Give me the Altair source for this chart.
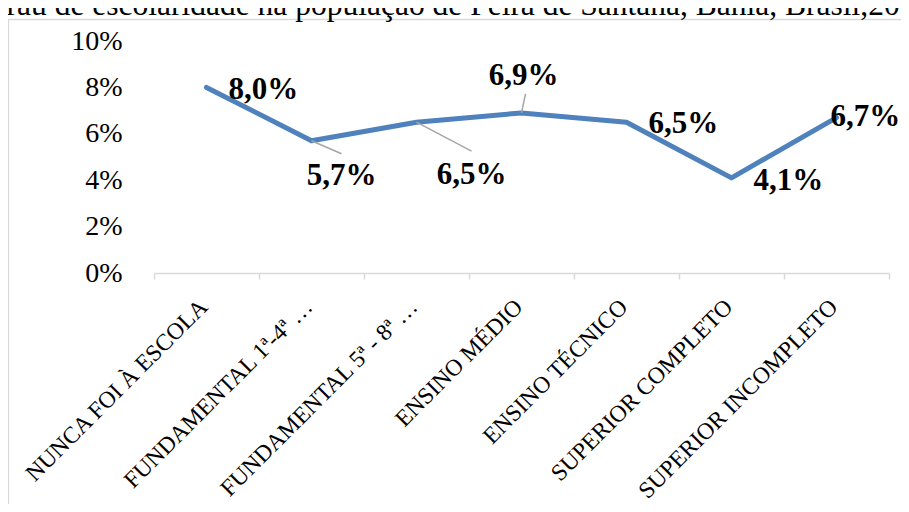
import altair as alt
import pandas as pd

# ---- data ----
categories = [
    "NUNCA FOI À ESCOLA",
    "FUNDAMENTAL 1ª-4ª …",
    "FUNDAMENTAL 5ª - 8ª …",
    "ENSINO MÉDIO",
    "ENSINO TÉCNICO",
    "SUPERIOR COMPLETO",
    "SUPERIOR INCOMPLETO",
]
values = [8.0, 5.7, 6.5, 6.9, 6.5, 4.1, 6.7]
y_ticks = [0, 2, 4, 6, 8, 10]
title_text = "Grau de escolaridade na população de Feira de Santana, Bahia, Brasil,2010"

labels = [f"{v:.1f}".replace(".", ",") + "%" for v in values]
df = pd.DataFrame({"idx": list(range(len(categories))), "cat": categories,
                   "v": values, "lab": labels})

FONT = "Liberation Serif"
BLUE = "#4f81bd"
GRAY = "#d9d9d9"

x_enc = alt.X("cat:N", sort=categories, bandPosition=0.5, title=None,
              scale=alt.Scale(type="band", paddingInner=0, paddingOuter=0),
              axis=alt.Axis(labelAngle=-45, labelAlign="right", labelBaseline="middle",
                            labelFont=FONT, labelFontSize=23.5, labelColor="black",
                            labelPadding=24, labelOffset=-3, labelLimit=0,
                            labelOverlap=False, labelBound=False, tickBand="extent",
                            tickSize=6, tickWidth=1.5, tickColor=GRAY,
                            domainColor=GRAY, domainWidth=1.5, grid=False))
y_enc = alt.Y("v:Q", title=None,
              scale=alt.Scale(domain=[0, 10], nice=False, zero=True),
              axis=alt.Axis(values=y_ticks, labelExpr="datum.value + '%'",
                            labelFont=FONT, labelFontSize=28, labelColor="black",
                            labelPadding=32, tickSize=0, ticks=False,
                            domain=False, grid=False))

base = alt.Chart(df)

frame = alt.Chart(alt.Data(values=[{"a": 1}])).mark_rect(
    fillOpacity=0, stroke=GRAY, strokeWidth=1.3
).encode(x=alt.value(-145.5), x2=alt.value(900), y=alt.value(-21.5), y2=alt.value(600))

# chart title (partly cut by the top edge, as in the reference)
title = alt.Chart(alt.Data(values=[{"t": title_text}])).mark_text(
    font=FONT, fontSize=31.5, color="black", align="center", baseline="alphabetic"
).encode(x=alt.value(303.5), y=alt.value(-26), text="t:N")

line = base.mark_line(color=BLUE, strokeWidth=5, strokeCap="round",
                      strokeJoin="round").encode(x=x_enc, y=y_enc)

# label placement per category: (align, dx, dy, leader end offset or None)
placement = {
    0: ("left", 22, 3, None),
    1: ("center", 30, 35, (30, 13)),
    2: ("center", 55, 53, (55, 29)),
    3: ("center", 2, -37, (4, -19)),
    4: ("left", 22, 2, None),
    5: ("left", 22, 3, None),
    6: ("left", -6, -1, None),
}

layers = [frame, title, line]
for i, (align, dx, dy, lead) in placement.items():
    sub = base.transform_filter(alt.datum.idx == i)
    if lead is not None:
        layers.append(sub.mark_rule(color="#a6a6a6", strokeWidth=1.5,
                                    x2Offset=lead[0], y2Offset=lead[1]).encode(
            x=alt.X("cat:N", sort=categories, bandPosition=0.5),
            x2=alt.X2("cat:N", bandPosition=0.5),
            y="v:Q", y2="v:Q"))
    layers.append(sub.mark_text(align=align, baseline="middle", dx=dx, dy=dy,
                                font=FONT, fontSize=31, fontWeight="bold",
                                color="black").encode(
        x=alt.X("cat:N", sort=categories, bandPosition=0.5),
        y="v:Q", text="lab:N"))

chart = alt.layer(*layers).properties(
    width=735, height=232,
    padding={"left": 146, "top": 33, "right": 12, "bottom": 231},
    autosize=alt.AutoSizeParams(type="none"),
).configure_view(stroke=None)

chart.save("out.html", embed_options={"renderer": "svg", "actions": False})
